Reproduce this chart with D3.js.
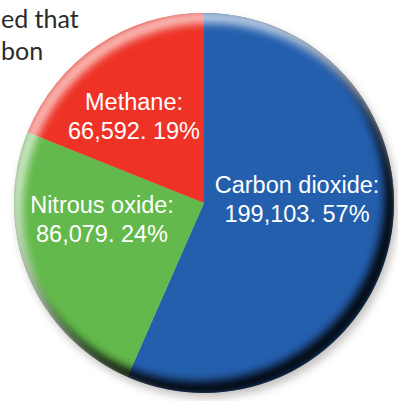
<!DOCTYPE html>
<html>
<head>
<meta charset="utf-8">
<script src="https://cdn.jsdelivr.net/npm/d3@7"></script>
<style>
  html, body { margin: 0; padding: 0; background: #fff; }
  svg { display: block; }
</style>
</head>
<body>
<svg id="chart" width="398" height="401"></svg>
<script>
// Greenhouse gas emissions by gas
const gases = ["Carbon dioxide", "Nitrous oxide", "Methane"];
const emissions = [199103, 86079, 66592];
const shares = [57, 24, 19];
const sliceColors = ["#245fae", "#63b94b", "#ee3226"];

// Fragment of the surrounding paragraph text
const bodyLines = ["ed that", "bon"];

const W = 398, H = 401;
const cx = 204, cy = 203, R = 190;

const svg = d3.select("#chart");
const defs = svg.append("defs");

function blurFilter(id, sd) {
  defs.append("filter").attr("id", id).attr("x", "-20%").attr("y", "-20%")
    .attr("width", "140%").attr("height", "140%")
    .append("feGaussianBlur").attr("stdDeviation", sd);
}
blurFilter("drop", 4);
blurFilter("soft", 5);
blurFilter("softer", 4);

defs.append("clipPath").attr("id", "disc")
  .append("circle").attr("cx", cx).attr("cy", cy).attr("r", R);

// paragraph fragment
svg.append("g").selectAll("text").data(bodyLines).join("text")
  .attr("x", 1)
  .attr("y", (d, i) => 28 + i * 32)
  .attr("font-family", "Lato, 'Open Sans', sans-serif")
  .attr("font-size", 25)
  .attr("fill", "#2b2b2b")
  .text(d => d);

const g = svg.append("g").attr("transform", `translate(${cx},${cy})`);

// shadow
g.append("circle").attr("cx", 3).attr("cy", 5).attr("r", R)
  .attr("fill", "#8a8680").attr("opacity", 0.5).attr("filter", "url(#drop)");

const pie = d3.pie().sort(null).value(d => d.value);
const arc = d3.arc().innerRadius(0).outerRadius(R);

const data = gases.map((name, i) => ({ name, value: emissions[i], share: shares[i], color: sliceColors[i] }));
const arcs = pie(data);

g.selectAll("path.slice").data(arcs).join("path")
  .attr("class", "slice")
  .attr("d", arc)
  .attr("fill", d => d.data.color);

// rim shading: dark edge toward the lower right, light haze toward the top left
const shade = svg.append("g").attr("clip-path", "url(#disc)");
shade.append("circle")
  .attr("cx", cx - 6).attr("cy", cy - 8).attr("r", R + 4)
  .attr("fill", "none").attr("stroke", "#000").attr("stroke-width", 14)
  .attr("opacity", 0.95).attr("filter", "url(#soft)");
shade.append("circle")
  .attr("cx", cx + 6).attr("cy", cy + 8).attr("r", R + 4)
  .attr("fill", "none").attr("stroke", "#fff").attr("stroke-width", 12)
  .attr("opacity", 0.7).attr("filter", "url(#softer)");

// labels
const labelCenters = { "Carbon dioxide": [93, -10], "Nitrous oxide": [-102, 10], "Methane": [-70, -93] };
const fmt = d3.format(",");
const labels = g.selectAll("g.label").data(arcs).join("g")
  .attr("class", "label")
  .attr("transform", d => `translate(${labelCenters[d.data.name]})`);
labels.append("text")
  .attr("text-anchor", "middle")
  .attr("font-family", "'Liberation Sans', Arial, sans-serif")
  .attr("font-size", 23.5)
  .attr("fill", "#fff")
  .selectAll("tspan")
  .data(d => [d.data.name + ":", `${fmt(d.data.value)}. ${d.data.share}%`])
  .join("tspan")
  .attr("x", 0)
  .attr("dy", (d, i) => i === 0 ? 0 : 29)
  .text(d => d);
</script>
</body>
</html>
